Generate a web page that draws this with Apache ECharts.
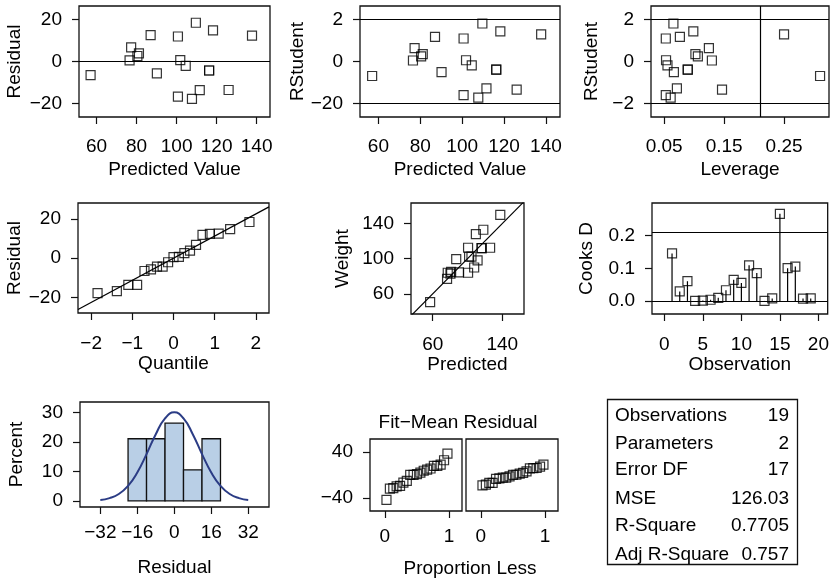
<!DOCTYPE html>
<html><head><meta charset="utf-8">
<script src="https://cdn.jsdelivr.net/npm/echarts@6/dist/echarts.min.js"></script>
<style>html,body{margin:0;padding:0;background:#fff}#c{width:832px;height:578px}</style>
</head><body><div id="c"></div>
<script>
// ---- data (19 observations) ----
const obs = [1,2,3,4,5,6,7,8,9,10,11,12,13,14,15,16,17,18,19];
const predicted = [126.006,77.268,111.580,101.832,104.561,80.387,90.135,100.662,100.662,87.016,56.993,107.681,76.488,116.258,137.703,109.630,118.208,81.167,116.258];
const residual = [-13.506,6.732,-13.580,0.668,-2.061,2.613,-5.635,11.838,-16.662,12.484,-6.493,-17.681,0.512,-4.258,12.297,18.370,14.792,3.833,-4.258];
const rstudent = [-1.332,0.630,-1.278,0.059,-0.184,0.239,-0.508,1.089,-1.592,1.170,-0.686,-1.716,0.047,-0.387,1.289,1.801,1.430,0.351,-0.387];
const leverage = [0.1465,0.1246,0.0712,0.0531,0.0555,0.1062,0.0662,0.0527,0.0527,0.0762,0.3101,0.0608,0.1296,0.0893,0.2500,0.0654,0.0986,0.1021,0.0893];
const weight = [112.5,84,98,102.5,102.5,83,84.5,112.5,84,99.5,50.5,90,77,112,150,128,133,85,112];
const cooksD = [0.1455,0.0292,0.0604,0.0001,0.0011,0.0036,0.0096,0.0327,0.0647,0.0552,0.1090,0.0854,0.0002,0.0078,0.2667,0.1003,0.1054,0.0074,0.0078];
const quantile = [-1.845,-1.376,-1.097,-0.884,-0.705,-0.547,-0.401,-0.264,-0.131,0,0.131,0.264,0.401,0.547,0.705,0.884,1.097,1.376,1.845];
const sortedResid = [-17.681,-16.662,-13.580,-13.506,-6.493,-5.635,-4.258,-4.258,-2.061,0.512,0.668,2.613,3.833,6.732,11.838,12.297,12.484,14.792,18.370];
const qqLineX = [-2.32, 2.32];
const qqLineY = [-26.04, 26.04];
const diagX = [35, 165];
const diagY = [35, 165];
const binStart = [-20,-12,-4,4,12];
const binEnd = [-12,-4,4,12,20];
const binPercent = [21.05,21.05,26.32,10.53,21.05];
const normX = [-32,-28,-24,-20,-16,-12,-8,-4,0,4,8,12,16,20,24,28,32];
const normY = [0.32,0.93,2.33,5.09,9.64,15.85,22.59,27.95,30,27.95,22.59,15.85,9.64,5.09,2.33,0.93,0.32];
const propLess = [0.026,0.079,0.132,0.184,0.237,0.289,0.342,0.395,0.447,0.500,0.553,0.605,0.658,0.711,0.763,0.816,0.868,0.921,0.974];
const fitMean = [-43.03,-23.54,-22.76,-19.64,-18.86,-13.01,-9.89,0.64,0.64,1.81,4.54,7.66,9.60,11.55,16.23,16.23,18.18,25.98,37.68];
const statLabels = ['Observations','Parameters','Error DF','MSE','R-Square','Adj R-Square'];
const statValues = ['19','2','17','126.03','0.7705','0.757'];
// tick values
const ticksPred = [60,80,100,120,140];
const ticksResid = [-20,0,20];
const ticksRStud = [-2,0,2];
const ticksLev = [0.05,0.15,0.25];
const ticksQuant = [-2,-1,0,1,2];
const ticksWX = [60,140];
const ticksWY = [60,100,140];
const ticksObs = [0,5,10,15,20];
const ticksCook = [0,0.1,0.2];
const ticksHistX = [-32,-16,0,16,32];
const ticksHistY = [0,10,20,30];
const ticksProp = [0,1];
const ticksSpread = [-40,40];
const rstudLim = [-2, 2];
const levCut = 0.2105;
const cookCut = 0.2105;

const FONT = '"Liberation Sans", Arial, Helvetica, sans-serif';
const FS = 19;
const minus = v => String(v).replace('-', '\u2212');
const ts = {color:'#000', fontSize:FS, fontFamily:FONT};

const grids = [
  {left:79, top:6, width:191, height:111},
  {left:360, top:6, width:200, height:111},
  {left:651, top:6, width:178, height:111},
  {left:78, top:203, width:191, height:110},
  {left:411, top:203, width:113, height:111},
  {left:652, top:203, width:176, height:111},
  {left:80, top:402, width:189, height:108},
  {left:370, top:439, width:92, height:72},
  {left:466, top:439, width:92, height:72}
].map(g => Object.assign({show:true, borderColor:'#111', borderWidth:1.3, backgroundColor:'transparent', containLabel:false}, g));

function ax(gi, min, max, ticks, name, gap, fmt, margin, showLabels) {
  return {
    type:'value', gridIndex:gi, min:min, max:max,
    axisLine:{show:false, onZero:false},
    axisTick:{show: ticks.length>0, inside:false, length:7, lineStyle:{color:'#111', width:1.2}, customValues:ticks},
    axisLabel:{show: showLabels!==false && ticks.length>0, customValues:ticks, color:'#000', fontSize:FS, fontFamily:FONT, margin:margin, formatter:fmt || minus},
    splitLine:{show:false},
    name:name, nameLocation:'middle', nameGap:gap,
    nameTextStyle:ts
  };
}

const xAxes = [
  ax(0, 51.2, 146.7, ticksPred, 'Predicted Value', 43, null, 20),
  ax(1, 51.2, 146.7, ticksPred, 'Predicted Value', 43, null, 20),
  ax(2, 0.028, 0.325, ticksLev, 'Leverage', 43, v => v.toFixed(2), 20),
  ax(3, -2.32, 2.32, ticksQuant, 'Quantile', 41, null, 21),
  ax(4, 35, 165, ticksWX, 'Predicted', 41, null, 21),
  ax(5, -1.6, 21.2, ticksObs, 'Observation', 41, null, 21),
  ax(6, -40.8, 41, ticksHistX, 'Residual', 51, null, 16),
  ax(7, -0.23, 1.2, ticksProp, '', 0, null, 16),
  ax(8, -0.23, 1.2, ticksProp, '', 0, null, 16)
];
const yAxes = [
  ax(0, -26.3, 26.3, ticksResid, 'Residual', 55, null, 17),
  ax(1, -2.63, 2.63, ticksRStud, 'RStudent', 53, v => (v === -2 ? '\u221220' : minus(v)), 17),
  ax(2, -2.63, 2.63, ticksRStud, 'RStudent', 50, null, 17),
  ax(3, -27.8, 28, ticksResid, 'Residual', 54, null, 17),
  ax(4, 37, 163.5, ticksWY, 'Weight', 59, null, 17),
  ax(5, -0.04, 0.30, ticksCook, 'Cooks D', 56, v => v.toFixed(1), 17),
  ax(6, -2.07, 33.5, ticksHistY, 'Percent', 54, null, 17),
  ax(7, -62.5, 63, ticksSpread, '', 0, null, 17),
  ax(8, -62.5, 63, [], '', 0, null, 17)
];

const sq = {symbol:'rect', symbolSize:9, itemStyle:{color:'rgba(0,0,0,0)', borderColor:'#000', borderWidth:1.2}, silent:true};
function scat(gi, xs, ys, extra) {
  return Object.assign({type:'scatter', xAxisIndex:gi, yAxisIndex:gi, data: xs.map((x,i)=>[x, ys[i]]), z:5}, sq, extra || {});
}
function ml(data) {
  return {silent:true, symbol:['none','none'], label:{show:false}, lineStyle:{color:'#000', width:1.2, type:'solid'}, emphasis:{disabled:true}, animation:false, data:data};
}
function line(gi, xs, ys, color, width, smooth) {
  return {type:'line', xAxisIndex:gi, yAxisIndex:gi, data: xs.map((x,i)=>[x, ys[i]]), symbol:'none', smooth:!!smooth, lineStyle:{color:color, width:width}, silent:true, clip:true, z:4};
}

const series = [
  scat(0, predicted, residual, {markLine: ml([{yAxis:0}])}),
  scat(1, predicted, rstudent, {markLine: ml(rstudLim.map(v=>({yAxis:v})))}),
  scat(2, leverage, rstudent, {markLine: ml(rstudLim.map(v=>({yAxis:v})).concat([{xAxis:levCut}]))}),
  scat(3, quantile, sortedResid),
  line(3, qqLineX, qqLineY, '#000', 1.2),
  scat(4, predicted, weight),
  line(4, diagX, diagY, '#000', 1.2),
  {type:'custom', xAxisIndex:5, yAxisIndex:5, coordinateSystem:'cartesian2d', silent:true, z:3,
   data: obs.map((o,i)=>[o, cooksD[i]]),
   renderItem: function(params, api){
     const p0 = api.coord([api.value(0), 0]);
     const p1 = api.coord([api.value(0), api.value(1)]);
     return {type:'line', shape:{x1:p0[0], y1:p0[1], x2:p1[0], y2:p1[1]}, style:{stroke:'#000', lineWidth:1.2}};
   },
   markLine: ml([{yAxis:0},{yAxis:cookCut}])
  },
  scat(5, obs, cooksD),
  {type:'custom', xAxisIndex:6, yAxisIndex:6, coordinateSystem:'cartesian2d', silent:true, z:2,
   data: binStart.map((s,i)=>[s, binEnd[i], binPercent[i]]),
   encode:{x:[0,1], y:2},
   renderItem: function(params, api){
     const p0 = api.coord([api.value(0), api.value(2)]);
     const p1 = api.coord([api.value(1), 0]);
     return {type:'rect', shape:{x:p0[0], y:p0[1], width:p1[0]-p0[0], height:p1[1]-p0[1]}, style:{fill:'#B9CFE6', stroke:'#111', lineWidth:1.3}};
   }
  },
  line(6, normX, normY, '#2B3C85', 2, true),
  scat(7, propLess, fitMean),
  scat(8, propLess, sortedResid)
];

const graphic = [
  {type:'text', style:{text:'Fit\u2212Mean Residual', x:458, y:423, fill:'#000', font:FS+'px '+FONT, align:'center', verticalAlign:'middle', textAlign:'center', textVerticalAlign:'middle'}},
  {type:'text', style:{text:'Proportion Less', x:470, y:569, fill:'#000', font:FS+'px '+FONT, align:'center', verticalAlign:'middle', textAlign:'center', textVerticalAlign:'middle'}},
  {type:'rect', shape:{x:607.5, y:399.5, width:190, height:165}, style:{fill:'none', stroke:'#111', lineWidth:1.3}}
];
const rowY = [415.7, 443.3, 470, 498.3, 526, 554.3];
statLabels.forEach((t,i)=>{
  graphic.push({type:'text', style:{text:t, x:615, y:rowY[i], fill:'#000', font:FS+'px '+FONT, align:'left', verticalAlign:'middle', textAlign:'left', textVerticalAlign:'middle'}});
  graphic.push({type:'text', style:{text:statValues[i], x:789, y:rowY[i], fill:'#000', font:FS+'px '+FONT, align:'right', verticalAlign:'middle', textAlign:'right', textVerticalAlign:'middle'}});
});

const chart = echarts.init(document.getElementById('c'), null, {renderer:'canvas'});
chart.setOption({animation:false, backgroundColor:'#fff', grid:grids, xAxis:xAxes, yAxis:yAxes, series:series, graphic:graphic});
</script></body></html>
